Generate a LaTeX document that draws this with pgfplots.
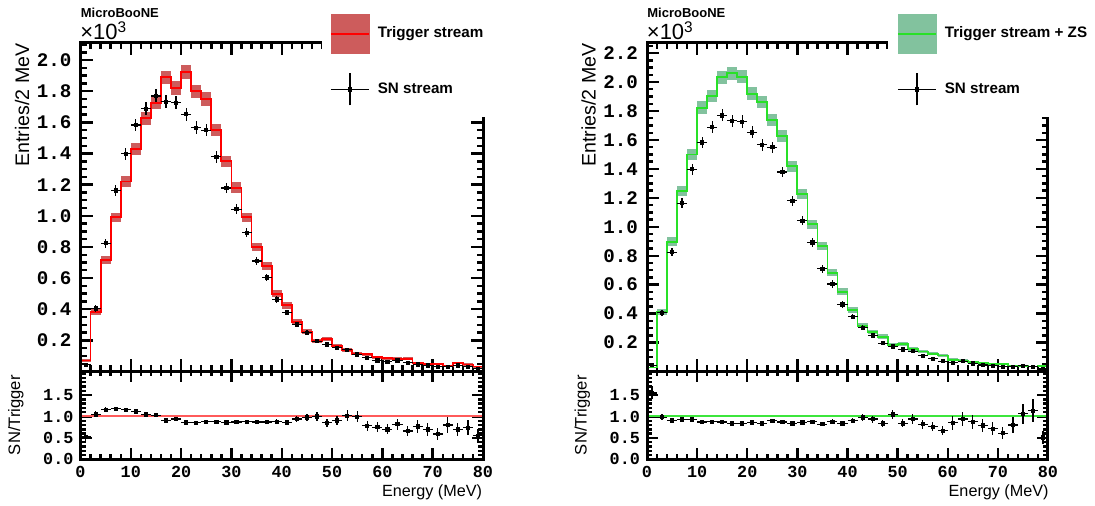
\documentclass[border=0pt]{standalone}
\usepackage{fontspec}
\setmainfont{Liberation Sans}
\newfontfamily\tickmono{Liberation Mono}
\usepackage{pgfplots}
\pgfplotsset{compat=1.18}
\usepackage{pgfplotstable}

\definecolor{bandred}{RGB}{205,92,92}
\definecolor{histred}{RGB}{255,0,0}
\definecolor{ratred}{RGB}{255,90,90}
\definecolor{bandgreen}{RGB}{130,194,158}
\definecolor{histgreen}{RGB}{40,225,40}
\definecolor{ratgreen}{RGB}{60,230,60}

% Trigger stream (bin left edge, content x1e3, error)
\pgfplotstableread{
x y e
0 0.070 0.008
2 0.380 0.019
4 0.716 0.027
6 0.990 0.031
8 1.220 0.035
10 1.430 0.038
12 1.626 0.040
14 1.727 0.042
16 1.890 0.043
18 1.820 0.043
20 1.925 0.044
22 1.800 0.042
24 1.750 0.042
26 1.550 0.039
28 1.350 0.037
30 1.180 0.034
32 0.990 0.031
34 0.800 0.028
36 0.677 0.026
38 0.500 0.022
40 0.425 0.021
42 0.320 0.018
44 0.254 0.016
46 0.196 0.014
48 0.208 0.014
50 0.163 0.013
52 0.140 0.012
54 0.114 0.011
56 0.110 0.010
58 0.092 0.010
60 0.086 0.009
62 0.082 0.009
64 0.082 0.009
66 0.056 0.007
68 0.050 0.007
70 0.050 0.007
72 0.037 0.006
74 0.052 0.007
76 0.045 0.007
78 0.032 0.006
80 0.032 0.006
}\trigL

% Trigger stream + ZS
\pgfplotstableread{
x y e
0 0.028 0.005
2 0.410 0.020
4 0.897 0.030
6 1.245 0.035
8 1.499 0.039
10 1.823 0.043
12 1.903 0.044
14 2.034 0.045
16 2.062 0.045
18 2.037 0.045
20 1.920 0.044
22 1.862 0.043
24 1.740 0.042
26 1.626 0.040
28 1.419 0.038
30 1.228 0.035
32 1.017 0.032
34 0.867 0.029
36 0.683 0.026
38 0.552 0.023
40 0.426 0.021
42 0.317 0.018
44 0.272 0.016
46 0.241 0.016
48 0.184 0.014
50 0.191 0.014
52 0.154 0.012
54 0.138 0.012
56 0.122 0.011
58 0.110 0.010
60 0.081 0.009
62 0.076 0.009
64 0.067 0.008
66 0.058 0.008
68 0.053 0.007
70 0.053 0.007
72 0.039 0.006
74 0.039 0.006
76 0.035 0.006
78 0.039 0.006
80 0.039 0.006
}\trigR

% SN stream (bin centre, content x1e3, error)
\pgfplotstableread{
x y e
1 0.043 0.007
3 0.405 0.020
5 0.824 0.029
7 1.163 0.034
9 1.398 0.037
11 1.583 0.040
13 1.688 0.041
15 1.770 0.042
17 1.733 0.042
19 1.727 0.042
21 1.652 0.041
23 1.566 0.040
25 1.550 0.039
27 1.379 0.037
29 1.179 0.034
31 1.043 0.032
33 0.892 0.030
35 0.710 0.027
37 0.604 0.025
39 0.463 0.022
41 0.379 0.019
43 0.303 0.017
45 0.250 0.016
47 0.195 0.014
49 0.174 0.013
51 0.153 0.012
53 0.140 0.012
55 0.110 0.010
57 0.088 0.009
59 0.071 0.008
61 0.062 0.008
63 0.071 0.008
65 0.056 0.007
67 0.045 0.007
69 0.039 0.006
71 0.032 0.006
73 0.032 0.006
75 0.039 0.006
77 0.032 0.006
79 0.017 0.004
}\snD

% Ratio SN/Trigger
\pgfplotstableread{
x y e
1 0.53 0.10
3 1.05 0.07
5 1.16 0.06
7 1.18 0.05
9 1.16 0.045
11 1.12 0.04
13 1.05 0.036
15 1.03 0.035
17 0.91 0.03
19 0.94 0.03
21 0.86 0.03
23 0.85 0.03
25 0.88 0.03
27 0.88 0.03
29 0.86 0.035
31 0.87 0.04
33 0.88 0.04
35 0.87 0.045
37 0.87 0.05
39 0.88 0.055
41 0.86 0.06
43 0.94 0.075
45 0.98 0.085
47 1.00 0.10
49 0.85 0.09
51 0.91 0.10
53 1.02 0.12
55 0.99 0.13
57 0.78 0.11
59 0.75 0.12
61 0.70 0.12
63 0.82 0.13
65 0.66 0.11
67 0.77 0.15
69 0.70 0.15
71 0.59 0.13
73 0.80 0.19
75 0.70 0.15
77 0.74 0.17
79 0.55 0.16
}\ratL

% Ratio SN/Trigger+ZS
\pgfplotstableread{
x y e
1 1.55 0.15
3 0.985 0.07
5 0.91 0.044
7 0.93 0.038
9 0.93 0.034
11 0.87 0.03
13 0.88 0.03
15 0.87 0.03
17 0.84 0.03
19 0.84 0.03
21 0.86 0.03
23 0.84 0.03
25 0.90 0.03
27 0.87 0.03
29 0.84 0.03
31 0.86 0.036
33 0.875 0.04
35 0.82 0.04
37 0.88 0.05
39 0.84 0.053
41 0.90 0.063
43 0.98 0.08
45 0.94 0.082
47 0.84 0.08
49 1.05 0.11
51 0.84 0.09
53 0.94 0.11
55 0.82 0.105
57 0.76 0.11
59 0.67 0.10
61 0.85 0.16
63 0.94 0.155
65 0.875 0.16
67 0.79 0.16
69 0.71 0.15
71 0.61 0.14
73 0.80 0.19
75 1.06 0.24
77 1.13 0.27
79 0.51 0.15
}\ratR

\pgfplotsset{
  rootframe/.style={
    scale only axis,
    axis line style={line width=1.3pt, black},
    tick style={black, line width=1.2pt},
    minor tick style={black, line width=1.2pt},
    major tick style={black, line width=1.2pt},
    tick align=inside, xtick pos=both, ytick pos=both,
    /pgf/number format/assume math mode=true,
    xmin=0, xmax=80,
    xtick={0,10,...,80}, minor xtick={0,2,...,80},
  },
  mainpanel/.style={
    rootframe, ymin=0,
    height=164.25pt,
    xticklabels={},
    minor ytick={0,0.05,...,2.25},
    major tick length=6pt, minor tick length=3pt,
    yticklabel style={font=\fontsize{9.6}{10}\tickmono\bfseries, xshift=-1pt,
      /pgf/number format/.cd, fixed, fixed zerofill, precision=1},
  },
  ratiopanel/.style={
    rootframe, ymin=0, ymax=2.05,
    height=43.9pt,
    ytick={0,0.5,1,1.5}, minor ytick={0,0.1,...,2.0},
    major tick length=5.5pt, minor tick length=2.5pt,
    yticklabel style={font=\fontsize{8.4}{9}\tickmono\bfseries,
      /pgf/number format/.cd, fixed, fixed zerofill, precision=1},
    xticklabel style={font=\fontsize{8.4}{9}\tickmono\bfseries},
  },
  snpoints/.style={black, only marks, mark=square*, mark size=0.8pt,
    error bars/.cd, x dir=both, x fixed=1, y dir=both, y explicit,
    error bar style={line width=0.6pt, black}, error mark=none},
  band/.style 2 args={draw=none, mark=none, forget plot,
    error bars/.cd, y dir=both, y explicit, error mark=none,
    error bar style={draw=#1, line width=#2}},
  legbox/.style={scale only axis, width=1pt, height=1pt, hide axis,
    xmin=0, xmax=1, ymin=0, ymax=1, anchor=north west,
    legend cell align=left,
    legend style={at={(0,1)}, anchor=north west, draw=none, fill=none,
      inner sep=0pt, outer sep=0pt, row sep=9.5pt,
      font=\fontsize{7.6}{9}\selectfont\bfseries,
      nodes={anchor=west},
      /tikz/every odd column/.append style={column sep=2pt}}},
}

\begin{document}
\begin{tikzpicture}
% ---------------- left main panel ----------------
\begin{axis}[mainpanel, name=TL, at={(40.25pt,67.25pt)}, anchor=south west,
  width=201.25pt, ymax=2.11,
  ytick={0.2,0.4,0.6,0.8,1.0,1.2,1.4,1.6,1.8,2.0}]
\addplot[band={bandred}{5.03pt}] table[x expr=\thisrow{x}+1, y=y, y error=e] {\trigL};
\addplot[histred, line width=0.9pt, const plot] table[x=x, y=y] {\trigL};
\addplot[snpoints] table[x=x, y=y, y error=e] {\snD};
\end{axis}
% ---------------- left ratio panel ----------------
\begin{axis}[ratiopanel, name=BL, at={(40.25pt,23.35pt)}, anchor=south west,
  width=201.25pt]
\addplot[ratred, line width=1pt] coordinates {(0,1) (80,1)};
\addplot[snpoints] table[x=x, y=y, y error=e] {\ratL};
\end{axis}
% ---------------- right main panel ----------------
\begin{axis}[mainpanel, name=TR, at={(323.5pt,67.25pt)}, anchor=south west,
  width=200.5pt, ymax=2.27,
  ytick={0.2,0.4,0.6,0.8,1.0,1.2,1.4,1.6,1.8,2.0,2.2}]
\addplot[band={bandgreen}{5.01pt}] table[x expr=\thisrow{x}+1, y=y, y error=e] {\trigR};
\addplot[histgreen, line width=0.9pt, const plot] table[x=x, y=y] {\trigR};
\addplot[snpoints] table[x=x, y=y, y error=e] {\snD};
\end{axis}
% ---------------- right ratio panel ----------------
\begin{axis}[ratiopanel, name=BR, at={(323.5pt,23.35pt)}, anchor=south west,
  width=200.5pt]
\addplot[ratgreen, line width=1pt] coordinates {(0,1) (80,1)};
\addplot[snpoints] table[x=x, y=y, y error=e] {\ratR};
\end{axis}

% heavy frames
\foreach \ax in {TL,BL,TR,BR} {
  \draw[black, line width=1.5pt] (\ax.south west) rectangle (\ax.north east);
}

% legend backgrounds
\fill[white] (161pt,253pt) rectangle (253pt,194.5pt);
\fill[white] (444pt,253pt) rectangle (547.5pt,194.5pt);

% legends
\begin{axis}[legbox, at={(165pt,246pt)}]
\addlegendimage{legend image code/.code={
  \fill[bandred] (0pt,-9.75pt) rectangle (19pt,9.75pt);
  \draw[histred, line width=0.9pt] (0pt,0pt) -- (19pt,0pt);}}
\addlegendentry{Trigger stream}
\addlegendimage{legend image code/.code={
  \draw[black, line width=0.6pt] (0pt,0pt) -- (19pt,0pt);
  \draw[black, line width=0.6pt] (9.5pt,-8pt) -- (9.5pt,8pt);
  \fill[black] (8.7pt,-0.8pt) rectangle (10.3pt,0.8pt);}}
\addlegendentry{SN stream}
\end{axis}
\begin{axis}[legbox, at={(448.5pt,246pt)}]
\addlegendimage{legend image code/.code={
  \fill[bandgreen] (0pt,-9.75pt) rectangle (19pt,9.75pt);
  \draw[histgreen, line width=0.9pt] (0pt,0pt) -- (19pt,0pt);}}
\addlegendentry{Trigger stream + ZS}
\addlegendimage{legend image code/.code={
  \draw[black, line width=0.6pt] (0pt,0pt) -- (19pt,0pt);
  \draw[black, line width=0.6pt] (9.5pt,-8pt) -- (9.5pt,8pt);
  \fill[black] (8.7pt,-0.8pt) rectangle (10.3pt,0.8pt);}}
\addlegendentry{SN stream}
\end{axis}

% texts
\foreach \dx in {0pt,283.25pt} {
  \node[anchor=base west, inner sep=0pt, font=\fontsize{6.5}{8}\selectfont\bfseries] at ([xshift=\dx]40.25pt,244.25pt) {MicroBooNE};
  \node[anchor=base west, inner sep=0pt, font=\fontsize{11}{12}\selectfont] at ([xshift=\dx]40pt,233pt) {×10\textsuperscript{3}};
  \node[rotate=90, anchor=base east, inner sep=0pt, font=\fontsize{9.8}{11}\selectfont] at ([xshift=\dx]14.5pt,231.5pt) {Entries/2 MeV};
  \node[rotate=90, anchor=base east, inner sep=0pt, font=\fontsize{8.3}{9}\selectfont] at ([xshift=\dx]10pt,65.5pt) {SN/Trigger};
  \node[anchor=base east, inner sep=0pt, font=\fontsize{8.1}{9}\selectfont] at ([xshift=\dx]241.25pt,4.5pt) {Energy (MeV)};
}

\pgfresetboundingbox
\path (0pt,0pt) rectangle (547.5pt,253pt);
\end{tikzpicture}
\end{document}
